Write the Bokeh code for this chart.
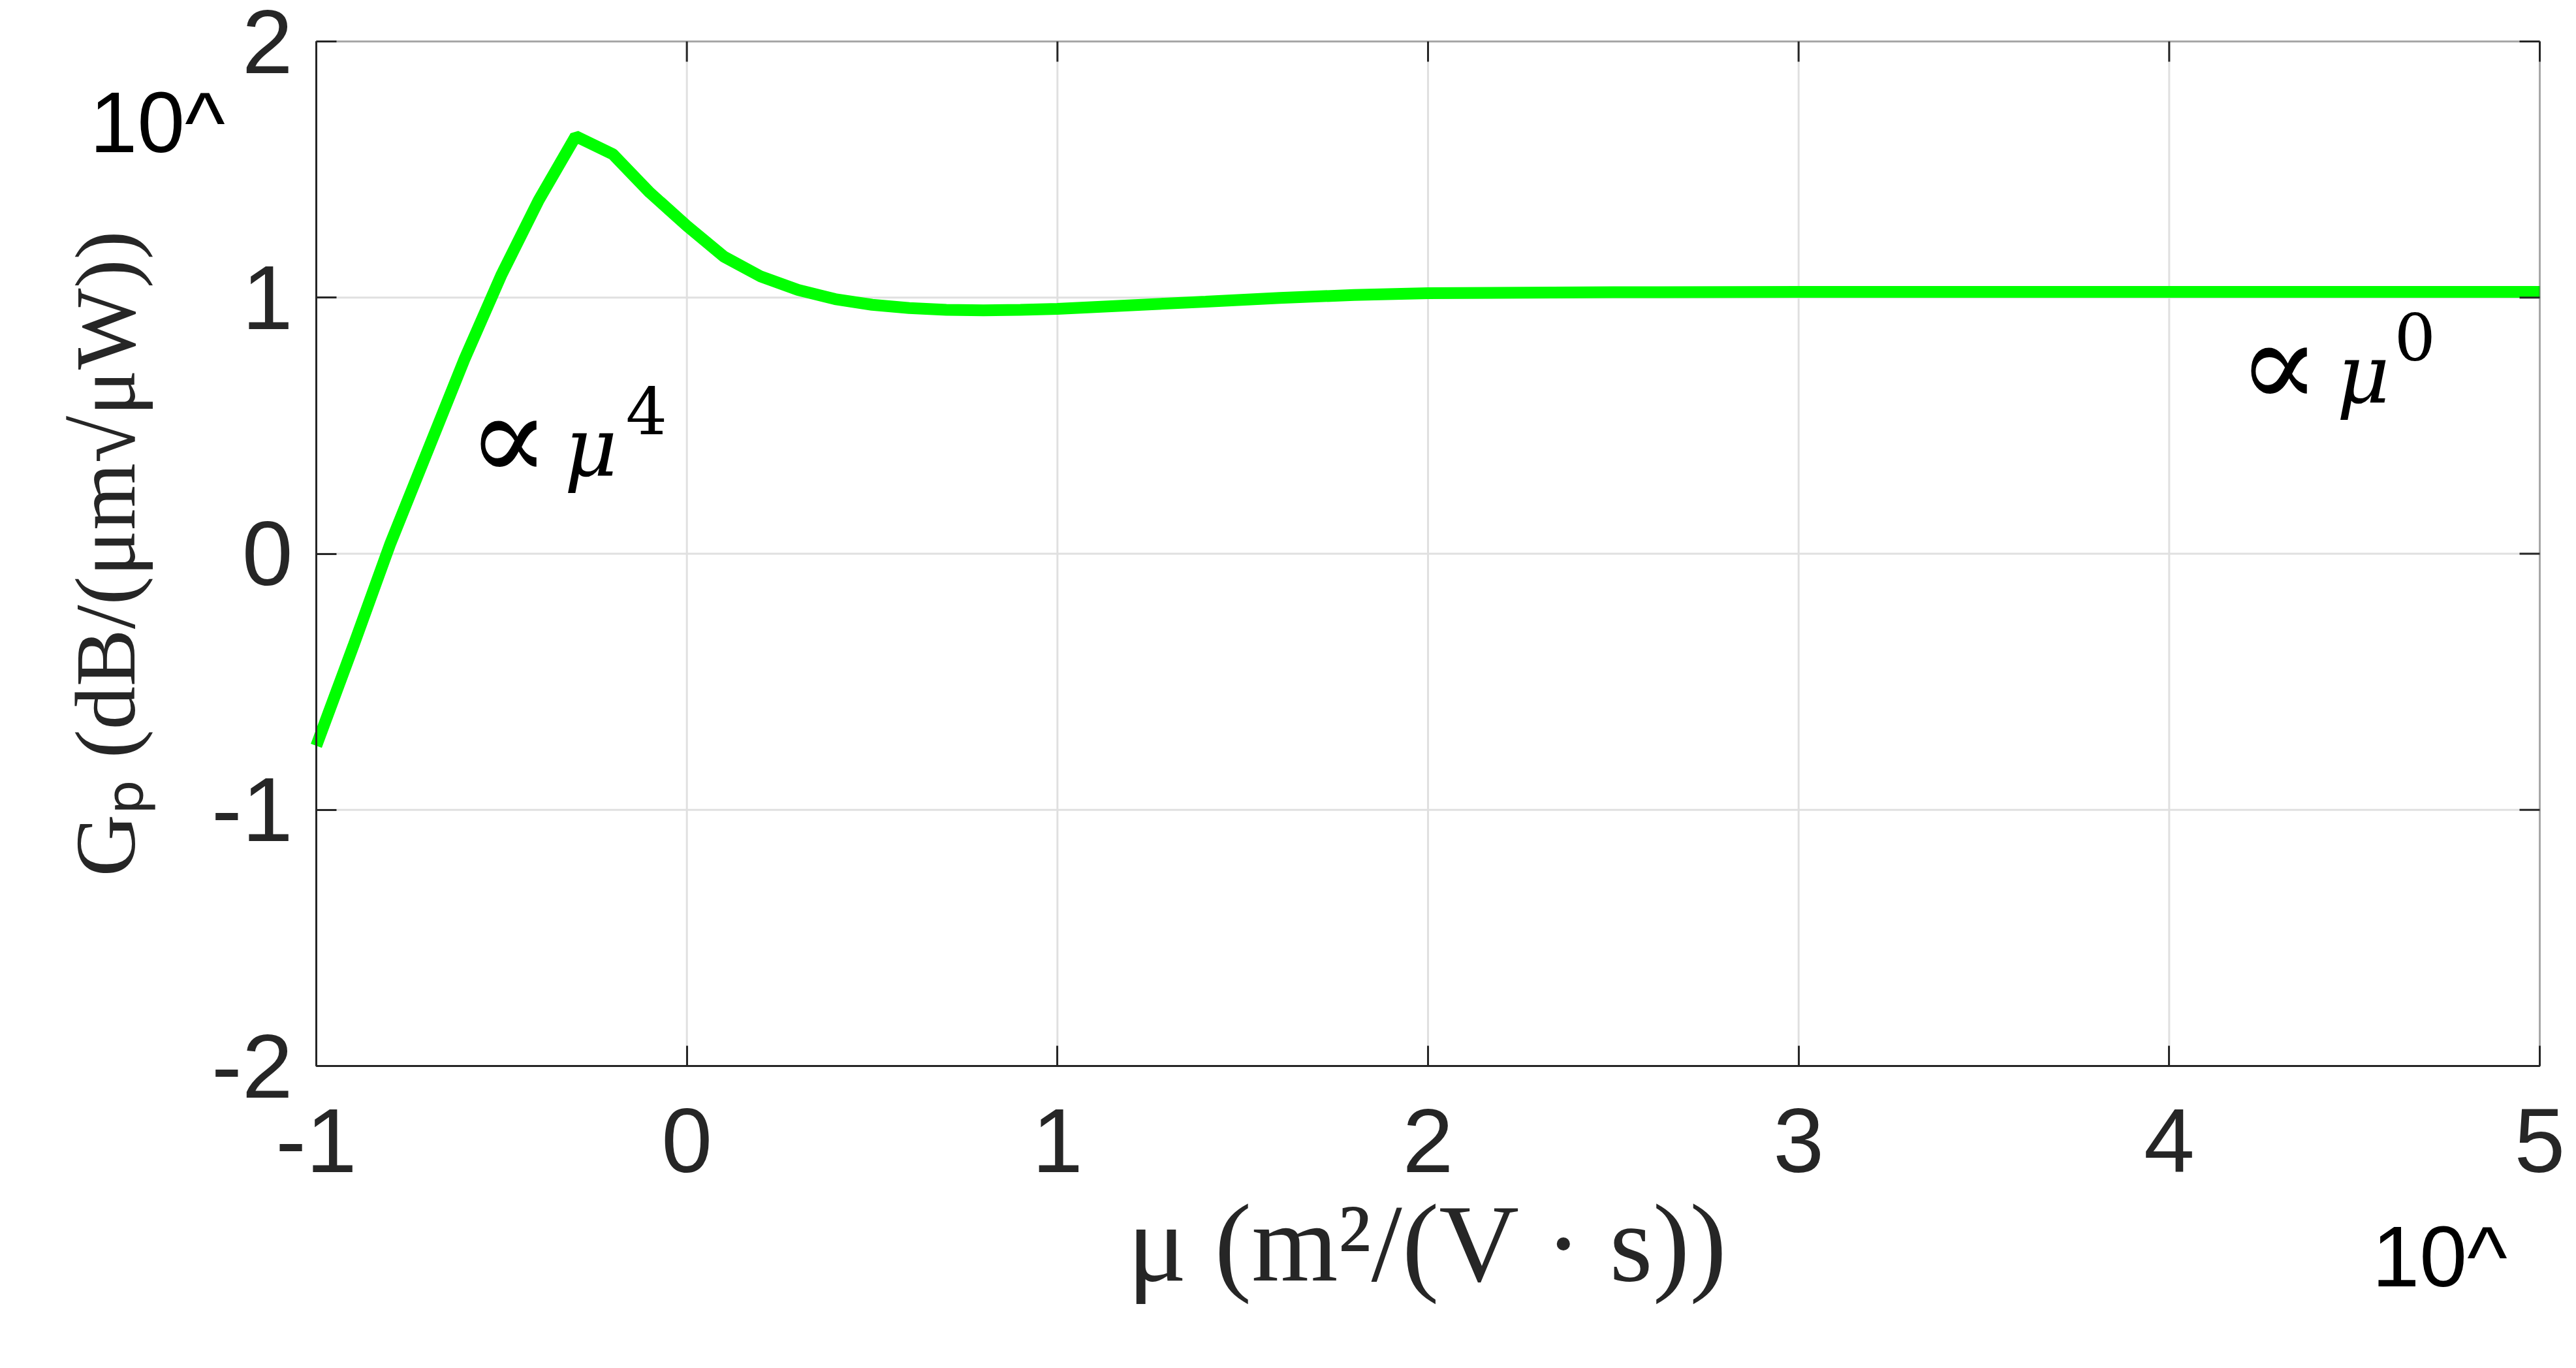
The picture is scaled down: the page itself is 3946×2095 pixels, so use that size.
import math
from bokeh.plotting import figure
from bokeh.models import FixedTicker, Range1d, Label, BoxAnnotation
from bokeh.embed import file_html
from bokeh.resources import INLINE

# log10(mu) and log10(Gp)
log_mu = [-1.0, -0.9, -0.8, -0.7, -0.6, -0.5, -0.4, -0.3, -0.2, -0.1,
          0.0, 0.1, 0.2, 0.3, 0.4, 0.5, 0.6, 0.7, 0.8, 0.9,
          1.0, 1.2, 1.4, 1.6, 1.8, 2.0, 2.5, 3.0, 4.0, 5.0]
log_gp = [-0.75, -0.36, 0.04, 0.40, 0.76, 1.09, 1.38, 1.63, 1.56, 1.41,
          1.28, 1.16, 1.082, 1.03, 0.994, 0.972, 0.959, 0.952, 0.950, 0.952,
          0.956, 0.970, 0.984, 0.999, 1.010, 1.017, 1.021, 1.022, 1.022, 1.022]
x_ticks = [-1, 0, 1, 2, 3, 4, 5]
y_ticks = [-2, -1, 0, 1, 2]
x_lim = (-1, 5)
y_lim = (-2, 2)

AX = "#262626"
TICK_FONT = "Liberation Sans"
SERIF = "DejaVu Serif"

W, H = 3930, 2079
# plot box in canvas pixels
BOX_L, BOX_R, BOX_T, BOX_B = 484, 3890, 63, 1632
ux = (BOX_R - BOX_L) / (x_lim[1] - x_lim[0])
uy = (BOX_B - BOX_T) / (y_lim[1] - y_lim[0])


def at(sx, sy):
    """canvas pixel -> data coordinate (for placing annotations)"""
    return x_lim[0] + (sx - BOX_L) / ux, y_lim[1] - (sy - BOX_T) / uy


p = figure(width=W, height=H, output_backend="svg", toolbar_location=None, title=None,
           x_range=Range1d(x_lim[0] - BOX_L / ux, x_lim[1] + (W - BOX_R) / ux),
           y_range=Range1d(y_lim[0] - (H - BOX_B) / uy, y_lim[1] + BOX_T / uy),
           min_border=0, background_fill_color="white", border_fill_color="white")
p.outline_line_color = None
p.xgrid.visible = False
p.ygrid.visible = False

# grid lines restricted to the box
p.segment(x0=x_ticks, y0=[y_lim[0]] * len(x_ticks), x1=x_ticks, y1=[y_lim[1]] * len(x_ticks),
          line_color="#e0e0e0", line_width=3)
p.segment(x0=[x_lim[0]] * len(y_ticks), y0=y_ticks, x1=[x_lim[1]] * len(y_ticks), y1=y_ticks,
          line_color="#e0e0e0", line_width=3)

p.line(log_mu, log_gp, line_color="#00ff00", line_width=18)

# axes fixed on the box edges
xa, ya = p.xaxis[0], p.yaxis[0]
xa.fixed_location = y_lim[0]
ya.fixed_location = x_lim[0]
xa.bounds = x_lim
ya.bounds = y_lim
xa.ticker = FixedTicker(ticks=x_ticks)
ya.ticker = FixedTicker(ticks=y_ticks)
xa.major_label_overrides = {t: str(t) for t in x_ticks}
ya.major_label_overrides = {t: str(t) for t in y_ticks}
for ax in (xa, ya):
    ax.major_tick_in = 31
    ax.major_tick_out = 0
    ax.minor_tick_line_color = None
    ax.major_tick_line_color = AX
    ax.major_tick_line_width = 3
    ax.axis_line_color = AX
    ax.axis_line_width = 3
    ax.major_label_text_font = TICK_FONT
    ax.major_label_text_font_size = "140px"
    ax.major_label_text_color = AX
    ax.axis_label_text_font = "Liberation Serif"
    ax.axis_label_text_font_style = "normal"
    ax.axis_label_text_color = AX
xa.major_label_standoff = 66
ya.major_label_standoff = 36
xa.axis_label = "μ (m²/(V · s))"
xa.axis_label_text_font_size = "170px"
xa.axis_label_standoff = 12
ya.axis_label = "Gₚ (dB/(μm√μW))"
ya.axis_label_text_font_size = "132px"
ya.axis_label_standoff = 86

# box outline and mirrored inward ticks (top and right)
p.add_layout(BoxAnnotation(left=x_lim[0], right=x_lim[1], bottom=y_lim[0], top=y_lim[1],
                           fill_alpha=0, line_color=AX, line_width=3))
p.ray(x=x_ticks, y=[y_lim[1]] * len(x_ticks), length=31, length_units="screen",
      angle=-math.pi / 2, line_color=AX, line_width=3)
p.ray(x=[x_lim[1]] * len(y_ticks), y=y_ticks, length=31, length_units="screen",
      angle=math.pi, line_color=AX, line_width=3)


# annotations (positions given in canvas pixels, converted to data)
def lab(sx, sy, text, size, font=SERIF, style="normal", color="black"):
    x, y = at(sx, sy)
    p.add_layout(Label(x=x, y=y, text=text, text_font=font, text_font_size=size,
                       text_font_style=style, text_color=color,
                       text_baseline="middle", text_align="left"))


lab(716, 670, "∝", "185px")
lab(864, 685, "μ", "125px", style="italic")
lab(958, 628, "4", "100px")
lab(3428, 558, "∝", "185px")
lab(3579, 573, "μ", "125px", style="italic")
lab(3667, 515, "0", "100px")

lab(137, 187, "10^", "131px", font=TICK_FONT)
lab(3633, 1924, "10^", "131px", font=TICK_FONT)

open("out.html", "w").write(file_html(p, INLINE))
